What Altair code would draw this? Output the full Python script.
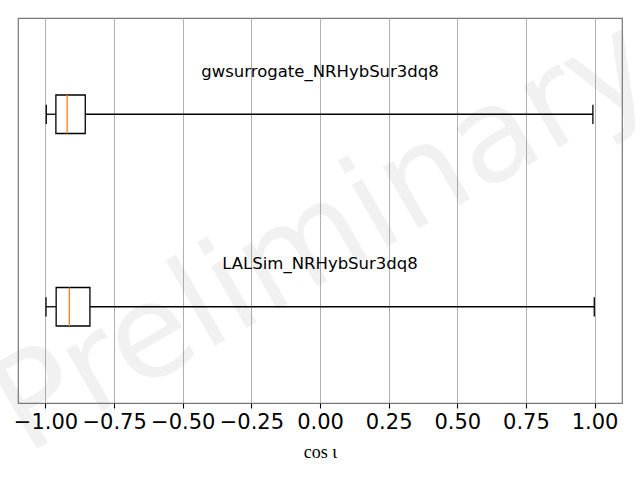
import altair as alt
import pandas as pd

labels = ["LALSim_NRHybSur3dq8", "gwsurrogate_NRHybSur3dq8"]
positions = [1, 2]
whisker_lo = [-0.998, -0.997]
q1 = [-0.961, -0.962]
median = [-0.913, -0.921]
q3 = [-0.838, -0.855]
whisker_hi = [0.999, 0.994]
x_ticks = [-1.0, -0.75, -0.5, -0.25, 0.0, 0.25, 0.5, 0.75, 1.0]

df = pd.DataFrame({
    "label": labels, "pos": positions, "lo": whisker_lo, "q1": q1,
    "med": median, "q3": q3, "hi": whisker_hi,
})
df["x_text"] = 0.0

xscale = alt.Scale(domain=[-1.1, 1.1], nice=False, zero=False)
yscale = alt.Scale(domain=[0.5, 2.5], nice=False, zero=False)

base = alt.Chart(df).transform_calculate(
    ylo="datum.pos - 0.1", yhi="datum.pos + 0.1",
    clo="datum.pos - 0.05", chi="datum.pos + 0.05",
    ytxt="datum.pos + 0.222",
)

xaxis = alt.Axis(
    values=x_ticks, format=".2f", title="cos ι", grid=True, gridColor="#b0b0b0",
    gridWidth=1, domain=False, tickColor="black", tickSize=5, tickWidth=1.1,
    labelFontSize=21, labelFont="DejaVu Sans", labelColor="black", labelPadding=3,
    titleFont="Liberation Serif", titleFontSize=18, titleFontWeight="normal",
    titleColor="black", titlePadding=11, labelFlush=False, labelOverlap=False,
)

whisk_l = base.mark_rule(color="black", strokeWidth=1.3).encode(
    x=alt.X("lo:Q", scale=xscale, axis=xaxis), x2="q1:Q",
    y=alt.Y("pos:Q", scale=yscale, axis=None),
)
whisk_r = base.mark_rule(color="black", strokeWidth=1.3).encode(
    x=alt.X("q3:Q", scale=xscale), x2="hi:Q",
    y=alt.Y("pos:Q", scale=yscale),
)
cap_l = base.mark_rule(color="black", strokeWidth=1.3).encode(
    x=alt.X("lo:Q", scale=xscale), y=alt.Y("clo:Q", scale=yscale), y2="chi:Q",
)
cap_r = base.mark_rule(color="black", strokeWidth=1.3).encode(
    x=alt.X("hi:Q", scale=xscale), y=alt.Y("clo:Q", scale=yscale), y2="chi:Q",
)
box = base.mark_rect(fillOpacity=0, stroke="black", strokeWidth=1.3).encode(
    x=alt.X("q1:Q", scale=xscale), x2="q3:Q",
    y=alt.Y("ylo:Q", scale=yscale), y2="yhi:Q",
)
med = base.mark_rule(color="#ff7f0e", strokeWidth=1.3).encode(
    x=alt.X("med:Q", scale=xscale), y=alt.Y("ylo:Q", scale=yscale), y2="yhi:Q",
)
txt = base.mark_text(font="DejaVu Sans", fontSize=16.5, color="black",
                     align="center", baseline="middle").encode(
    x=alt.X("x_text:Q", scale=xscale), y=alt.Y("ytxt:Q", scale=yscale),
    text="label:N",
)
wm = alt.Chart(pd.DataFrame({"t": ["Preliminary"]})).mark_text(
    font="DejaVu Sans", fontSize=130, color="gray", opacity=0.1,
    align="center", baseline="middle", angle=330,
).encode(x=alt.value(306), y=alt.value(220), text="t:N")

chart = alt.layer(wm, whisk_l, whisk_r, cap_l, cap_r, box, med, txt).properties(
    width=604, height=385,
    padding={"left": 18, "top": 18, "right": 18, "bottom": 77},
    autosize=alt.AutoSizeParams(type="none"),
    background="white",
).configure_view(stroke="#777777", strokeWidth=1.2)

chart.save("out.html", embed_options={"renderer": "svg", "actions": False})
